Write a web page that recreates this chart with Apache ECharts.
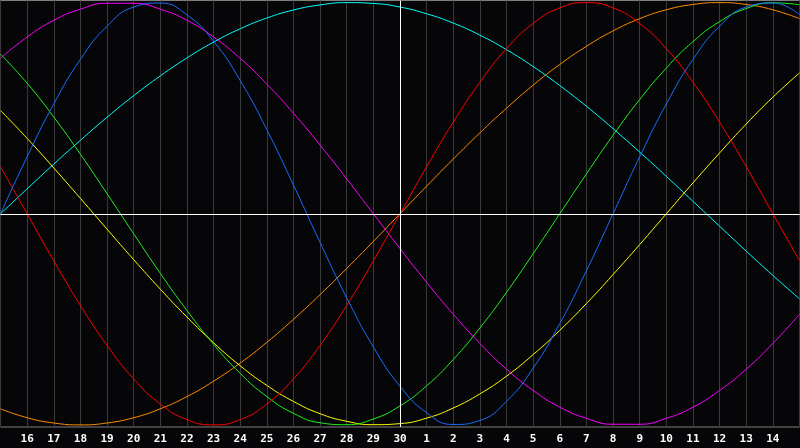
<!DOCTYPE html>
<html>
<head>
<meta charset="utf-8">
<script src="https://cdn.jsdelivr.net/npm/echarts@6/dist/echarts.min.js"></script>
<style>
html,body{margin:0;padding:0;background:#060609;}
#chart{width:800px;height:448px;}
</style>
</head>
<body>
<div id="chart"></div>
<script>
const days = ['15','16','17','18','19','20','21','22','23','24','25','26','27','28','29','30','1','2','3','4','5','6','7','8','9','10','11','12','13','14','15'];

const redVals = [0.223,0,-0.223,-0.434,-0.623,-0.782,-0.901,-0.975,-1,-0.975,-0.901,-0.782,-0.623,-0.434,-0.223,0,0.223,0.434,0.623,0.782,0.901,0.975,1,0.975,0.901,0.782,0.623,0.434,0.223,0,-0.223];
const blueVals = [0,0.270,0.520,0.731,0.888,0.979,0.998,0.942,0.817,0.631,0.398,0.136,-0.136,-0.398,-0.631,-0.817,-0.942,-0.998,-0.979,-0.888,-0.731,-0.520,-0.270,0,0.270,0.520,0.731,0.888,0.979,0.998,0.942];
const greenVals = [0.756,0.618,0.458,0.282,0.095,-0.095,-0.282,-0.458,-0.618,-0.756,-0.866,-0.945,-0.990,-0.999,-0.972,-0.910,-0.815,-0.690,-0.541,-0.372,-0.189,0,0.189,0.372,0.541,0.690,0.815,0.910,0.972,0.999,0.990];
const magentaVals = [0.736,0.837,0.916,0.969,0.997,0.997,0.969,0.916,0.837,0.736,0.614,0.476,0.325,0.165,0,-0.165,-0.325,-0.476,-0.614,-0.736,-0.837,-0.916,-0.969,-0.997,-0.997,-0.969,-0.916,-0.837,-0.736,-0.614,-0.476];
const yellowVals = [0.489,0.357,0.217,0.073,-0.073,-0.217,-0.357,-0.489,-0.611,-0.720,-0.813,-0.889,-0.947,-0.983,-0.999,-0.994,-0.968,-0.920,-0.853,-0.769,-0.667,-0.552,-0.425,-0.288,-0.146,0,0.146,0.288,0.425,0.552,0.667];
const orangeVals = [-0.924,-0.966,-0.991,-1,-0.991,-0.966,-0.924,-0.866,-0.793,-0.707,-0.609,-0.5,-0.383,-0.259,-0.131,0,0.131,0.259,0.383,0.5,0.609,0.707,0.793,0.866,0.924,0.966,0.991,1,0.991,0.966,0.924];
const cyanVals = [0,0.118,0.235,0.348,0.457,0.559,0.653,0.738,0.813,0.876,0.927,0.965,0.989,1.000,0.996,0.979,0.947,0.903,0.846,0.777,0.697,0.607,0.509,0.403,0.292,0.177,0.059,-0.059,-0.177,-0.292,-0.403];

const seriesDefs = [
  {name:'cyan', data:cyanVals, color:'#00ffff'},
  {name:'orange', data:orangeVals, color:'#ff8c00'},
  {name:'yellow', data:yellowVals, color:'#ffff00'},
  {name:'magenta', data:magentaVals, color:'#ff00ff'},
  {name:'green', data:greenVals, color:'#20f020'},
  {name:'red', data:redVals, color:'#ff0000'},
  {name:'blue', data:blueVals, color:'#1a6cff'}
];

const chart = echarts.init(document.getElementById('chart'), null, {renderer:'canvas'});
const series = seriesDefs.map(d => ({
  name: d.name,
  type: 'line',
  data: d.data,
  smooth: 0.5,
  symbol: 'none',
  lineStyle: {color: d.color, width: 1},
  z: 3
}));
series.unshift({
  name: 'axes',
  type: 'line',
  data: [],
  symbol: 'none',
  z: 2,
  markLine: {
    silent: true,
    symbol: ['none','none'],
    label: {show:false},
    lineStyle: {color:'#ffffff', width:1, type:'solid'},
    data: [{yAxis: 0}, {xAxis: '30'}]
  }
});

chart.setOption({
  animation: false,
  backgroundColor: '#060609',
  grid: {left: 0.5, right: 0.5, top: 0.5, bottom: 21, show: true, borderColor: '#808080', borderWidth: 1, containLabel: false, outerBoundsMode: 'none'},
  xAxis: {
    type: 'category',
    data: days,
    boundaryGap: false,
    axisLine: {show: true, lineStyle: {color: '#808080', width: 1}},
    axisTick: {show: false},
    axisLabel: {
      interval: 0,
      color: '#ffffff',
      fontFamily: 'DejaVu Sans Mono',
      fontWeight: 'bold',
      fontSize: 11,
      margin: 7,
      formatter: function (value, index) {
        return (index === 0 || index === days.length - 1) ? '' : value;
      }
    },
    splitLine: {show: true, interval: 0, lineStyle: {color: '#3a3a3a', width: 1}}
  },
  yAxis: {
    type: 'value',
    min: -1.01,
    max: 1.01,
    show: false
  },
  series: series
});
</script>
</body>
</html>
